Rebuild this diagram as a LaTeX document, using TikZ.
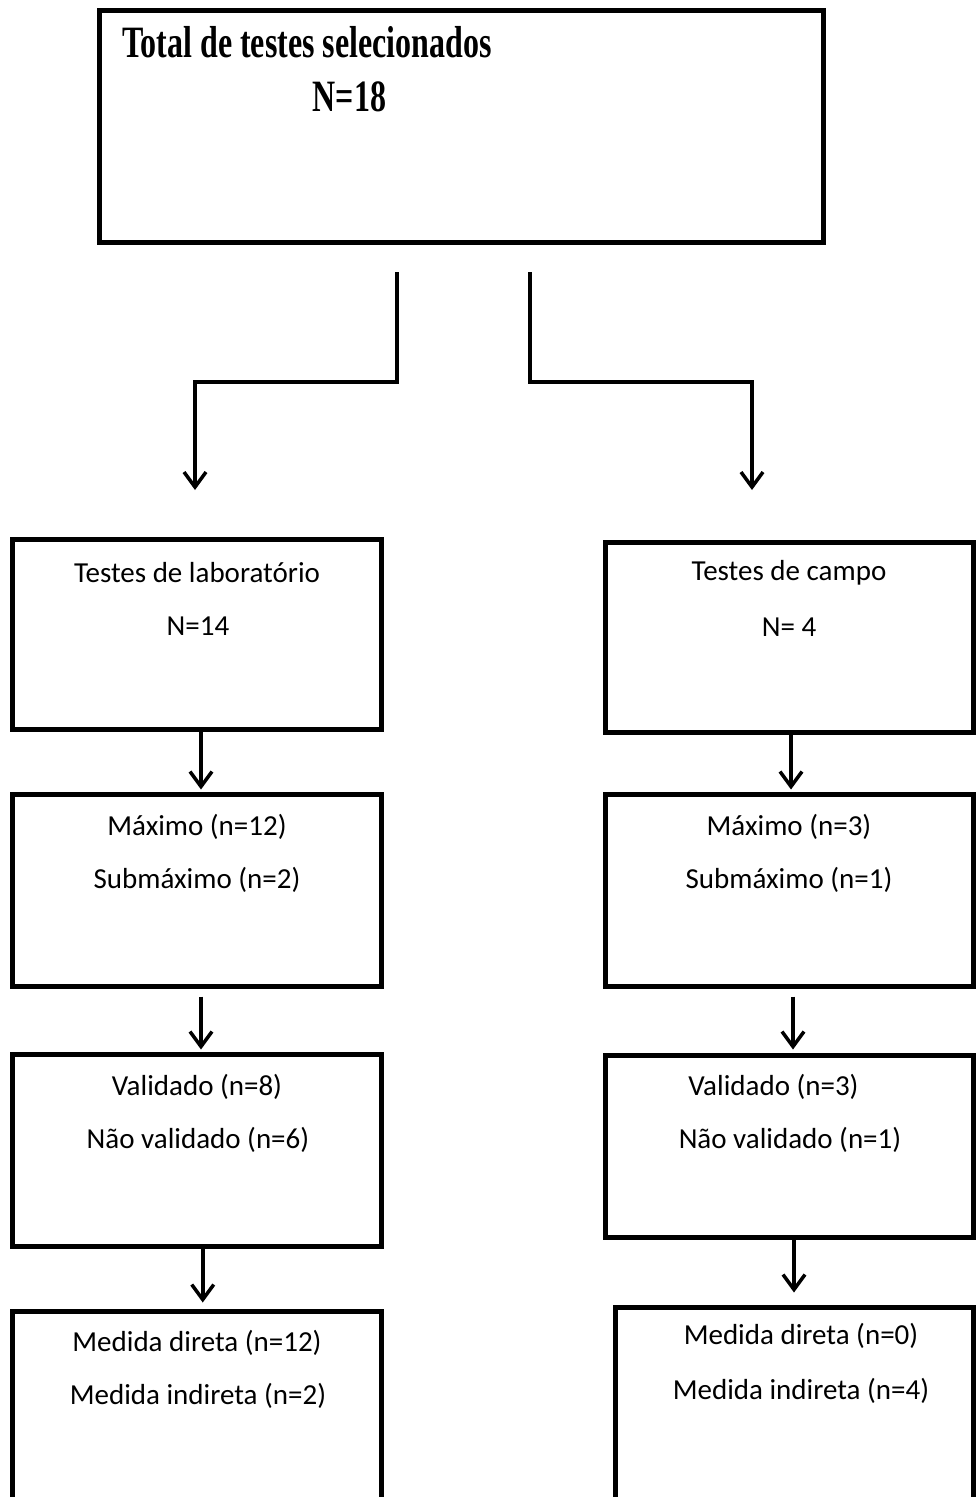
\documentclass[tikz,border=0pt]{standalone}
\usepackage{fontspec}
\usepackage{graphicx}
\setmainfont{Carlito}
\newfontfamily\titlefont{Liberation Serif}
\usetikzlibrary{arrows.meta}
\begin{document}
\begin{tikzpicture}[x=1pt,y=-1pt,
  box/.style={draw=black,line width=5pt,rectangle,inner sep=0pt,fill=white},
  txt/.style={inner sep=0pt,font=\fontsize{29}{34}\selectfont},
  ttl/.style={inner sep=0pt,font=\titlefont\bfseries\fontsize{32}{38}\selectfont},
  conn/.style={draw=black,line width=3.5pt,-{Straight Barb[length=15pt,width=22pt]}},
  plain/.style={draw=black,line width=3.5pt}]
\useasboundingbox (0,0) rectangle (977,1497);
\fill[white] (0,0) rectangle (977,1497);

% top box
\node[box,minimum width=724pt,minimum height=232pt] (T) at (461.5,126.5) {};
\node[ttl] (T1) at (307,42) {\scalebox{1}[1.4]{Total de testes selecionados}};
\node[ttl] (T2) at (349.5,97) {\scalebox{1}[1.4]{N=18}};

% left column
\node[box,minimum width=368.5pt,minimum height=190pt] (L1) at (196.75,634.5) {};
\node[txt] (L1a) at (197,573) {Testes de laboratório};
\node[txt] (L1b) at (198,626) {N=14};
\node[box,minimum width=368.5pt,minimum height=192pt] (L2) at (196.75,890.5) {};
\node[txt] (L2a) at (197,827) {Máximo (n=12)};
\node[txt] (L2b) at (197,880) {Submáximo (n=2)};
\node[box,minimum width=368.5pt,minimum height=191.5pt] (L3) at (196.75,1150.25) {};
\node[txt] (L3a) at (197,1087) {Validado (n=8)};
\node[txt] (L3b) at (198,1140) {Não validado (n=6)};
\node[box,minimum width=368.5pt,minimum height=300pt] (L4) at (196.75,1461) {};
\node[txt] (L4a) at (197,1343) {Medida direta (n=12)};
\node[txt] (L4b) at (198,1396) {Medida indireta (n=2)};

% right column
\node[box,minimum width=368pt,minimum height=190pt] (R1) at (789.5,637.5) {};
\node[txt] (R1a) at (789,573) {Testes de campo};
\node[txt] (R1b) at (789,627) {N= 4};
\node[box,minimum width=368pt,minimum height=192pt] (R2) at (789.5,890.5) {};
\node[txt] (R2a) at (789,827) {Máximo (n=3)};
\node[txt] (R2b) at (789,880) {Submáximo (n=1)};
\node[box,minimum width=368pt,minimum height=182.5pt] (R3) at (789.5,1146.25) {};
\node[txt] (R3a) at (773.5,1087) {Validado (n=3)};
\node[txt] (R3b) at (790,1140) {Não validado (n=1)};
\node[box,minimum width=358pt,minimum height=300pt] (R4) at (794.5,1457.5) {};
\node[txt] (R4a) at (801,1336) {Medida direta (n=0)};
\node[txt] (R4b) at (801,1391) {Medida indireta (n=4)};

% split connectors
\coordinate (s1) at (397,272);
\coordinate (k1) at (397,382);
\coordinate (e1) at (195,490);
\coordinate (s2) at (530,272);
\coordinate (k2) at (530,382);
\coordinate (e2) at (752,490);
\draw[conn,line join=miter] (s1) -- (k1) -| (e1);
\draw[conn,line join=miter] (s2) -- (k2) -| (e2);

% vertical arrows
\draw[conn,shorten >=2.5pt] ([xshift=4.25pt]L1.south) -- ([xshift=4.25pt]L2.north);
\draw[conn,shorten >=2.5pt] ([xshift=1.5pt]R1.south) -- ([xshift=1.5pt]R2.north);
\draw[conn,shorten <=7.5pt,shorten >=2.5pt] ([xshift=4.25pt]L2.south) -- ([xshift=4.25pt]L3.north);
\draw[conn,shorten <=7.5pt,shorten >=3pt] ([xshift=3.5pt]R2.south) -- ([xshift=3.5pt]R3.north);
\draw[conn,shorten >=6pt] ([xshift=6pt]L3.south) -- ([xshift=6pt]L4.north);
\draw[conn,shorten >=12.5pt] ([xshift=4.5pt]R3.south) -- ([xshift=-0.5pt]R4.north);
\end{tikzpicture}
\end{document}
